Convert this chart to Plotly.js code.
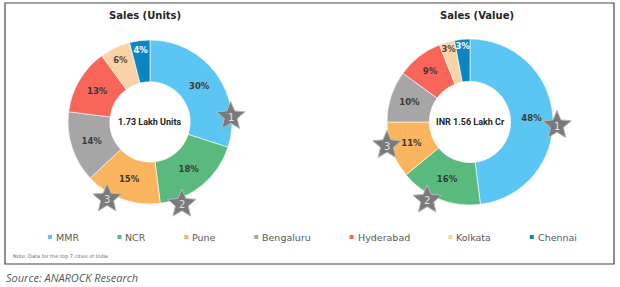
<!DOCTYPE html>
<html><head><meta charset="utf-8">
<script src="https://cdn.plot.ly/plotly-3.0.1.min.js"></script>
<style>html,body{margin:0;padding:0;background:#fff}#chart{width:620px;height:287px}</style>
</head><body><div id="chart"></div>
<script>
// ---- data ----
const cities = ["MMR", "NCR", "Pune", "Bengaluru", "Hyderabad", "Kolkata", "Chennai"];
const unitsShare = [30, 18, 15, 14, 13, 6, 4];
const valueShare = [48, 16, 11, 10, 9, 3, 3];
const chartTitles = ["Sales (Units)", "Sales (Value)"];
const centerLabels = ["1.73 Lakh Units", "INR 1.56 Lakh Cr"];
const noteText = "Note: Data for the top 7 cities of India";
const sourceText = "Source: ANAROCK Research";

// ---- styles / layout constants ----
const W = 620, H = 287;
const colors = ["#5BC6F3", "#5AB97C", "#FBB55E", "#A6A6A6", "#F8665A", "#F8D4A6", "#0C85C5"];
const labelColors = ["#3a3a3a", "#3a3a3a", "#3a3a3a", "#3a3a3a", "#3a3a3a", "#5a4a3a", "#ffffff"];
const pies = [
  {cx: 150, cy: 122, r: 82, titleX: 145, starFrac: [0.79, 0.78, 0.68], starR: [81, 87, 87]},
  {cx: 470, cy: 122, r: 83, titleX: 477, starFrac: [0.53, 0.63, 0.62], starR: [87, 88, 86]}
];
const series = [unitsShare, valueShare];
const FONT = "DejaVu Sans, sans-serif";
const BFONT = "Roboto, sans-serif";

const traces = [];
const annotations = [];
const shapes = [];

function starPath(x, y, ro, ri) {
  let d = "";
  for (let j = 0; j < 10; j++) {
    const a = -Math.PI / 2 + j * Math.PI / 5;
    const rr = j % 2 === 0 ? ro : ri;
    d += (j === 0 ? "M" : "L") + (x + rr * Math.cos(a)).toFixed(2) + "," + (y + rr * Math.sin(a)).toFixed(2);
  }
  return d + "Z";
}

series.forEach((vals, i) => {
  const p = pies[i];
  traces.push({
    type: "pie", values: vals, labels: cities, sort: false, direction: "clockwise", rotation: 0,
    hole: 0.49, showlegend: false,
    marker: {colors: colors, line: {color: "#ffffff", width: 0.6}},
    text: vals.map(v => "<b>" + v + "%</b>"), textinfo: "text", textposition: "inside",
    insidetextorientation: "horizontal",
    textfont: {family: FONT, size: 8.5, color: labelColors},
    domain: {x: [(p.cx - p.r) / W, (p.cx + p.r) / W], y: [1 - (p.cy + p.r) / H, 1 - (p.cy - p.r) / H]},
    hoverinfo: "label+percent"
  });
  // stars on top-3 slices
  const order = vals.map((v, k) => k).sort((a, b) => vals[b] - vals[a]).slice(0, 3);
  const cum = [];
  let s = 0; vals.forEach(v => { cum.push(s); s += v; });
  order.forEach((k, rank) => {
    const ang = (cum[k] + p.starFrac[rank] * vals[k]) / s * 2 * Math.PI;
    const x = p.cx + p.starR[rank] * Math.sin(ang);
    const y = p.cy - p.starR[rank] * Math.cos(ang);
    shapes.push({type: "path", xref: "x", yref: "y", path: starPath(x, y + 1, 15, 6.8),
      fillcolor: "#7a7a7a", line: {color: "#b8b8b8", width: 1}, layer: "above"});
    annotations.push({x: x, y: y + 2, xref: "x", yref: "y", text: String(rank + 1), showarrow: false,
      font: {family: FONT, size: 10, color: "#e2e2e2"}});
  });
  annotations.push({x: p.titleX, y: 15, xref: "x", yref: "y", text: "<b>" + chartTitles[i] + "</b>",
    showarrow: false, font: {family: FONT, size: 10, color: "#262626"}});
  annotations.push({x: p.cx, y: p.cy, xref: "x", yref: "y", text: "<b>" + centerLabels[i] + "</b>",
    showarrow: false, font: {family: BFONT, size: 9, color: "#262626"}});
});

// custom legend (small squares)
const legFont = 9.5;
const ctx = document.createElement("canvas").getContext("2d");
ctx.font = legFont + "px DejaVu Sans";
let lx = 50;
const legY = 237;
cities.forEach((c, k) => {
  shapes.push({type: "rect", xref: "x", yref: "y", x0: lx - 2, x1: lx + 2, y0: legY - 2, y1: legY + 2,
    fillcolor: colors[k], line: {width: 0}});
  annotations.push({x: lx + 4, y: legY, xref: "x", yref: "y", xanchor: "left", text: c, showarrow: false,
    font: {family: FONT, size: legFont, color: "#595959"}});
  lx += 5 + ctx.measureText(c).width + 41.5;
});

// frame, note, source
shapes.push({type: "rect", xref: "x", yref: "y", x0: 5, x1: 614, y0: 3, y1: 264,
  line: {color: "#444", width: 1.2}, fillcolor: "rgba(0,0,0,0)", layer: "below"});
annotations.push({x: 11, y: 256, xref: "x", yref: "y", xanchor: "left", text: noteText, showarrow: false,
  font: {family: FONT, size: 5, color: "#666"}});
annotations.push({x: 4, y: 277, xref: "x", yref: "y", xanchor: "left", text: "<i>" + sourceText + "</i>", showarrow: false,
  font: {family: "Open Sans, sans-serif", size: 11, color: "#595959"}});

const layout = {
  width: W, height: H, margin: {l: 0, r: 0, t: 0, b: 0}, paper_bgcolor: "#fff", plot_bgcolor: "rgba(0,0,0,0)",
  showlegend: false,
  uniformtext: {mode: "show", minsize: 8.5},
  xaxis: {range: [0, W], visible: false, fixedrange: true, domain: [0, 1]},
  yaxis: {range: [H, 0], visible: false, fixedrange: true, domain: [0, 1]},
  annotations: annotations, shapes: shapes
};
Plotly.newPlot("chart", traces, layout, {displayModeBar: false, staticPlot: true});
</script></body></html>
